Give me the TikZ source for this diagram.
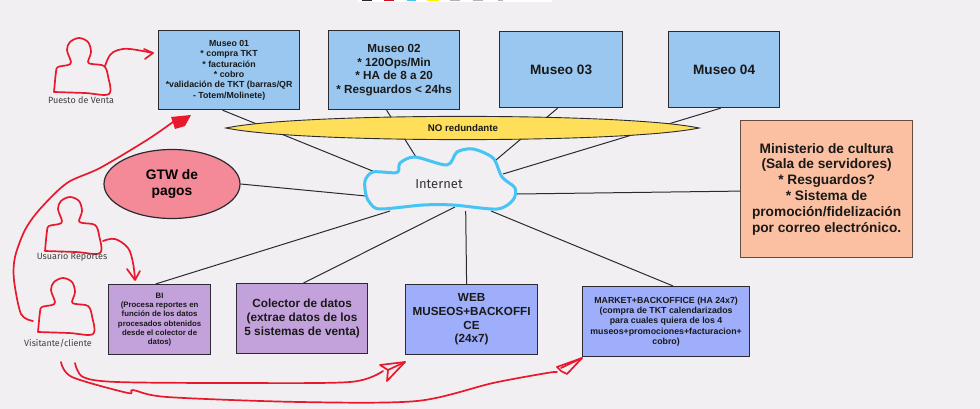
\documentclass[tikz,border=0pt]{standalone}
\usepackage{fontspec}
\setmainfont{Liberation Sans}
\newfontfamily\handfont{Fira Sans}
\usetikzlibrary{calc,shapes.geometric}
\definecolor{bgc}{HTML}{F1EFF1}
\definecolor{museo}{HTML}{99C7F0}
\definecolor{violeta}{HTML}{C3A2DC}
\definecolor{azul}{HTML}{9EAEFA}
\definecolor{salmon}{HTML}{FBBFA1}
\definecolor{rosa}{HTML}{F48A98}
\definecolor{amarillo}{HTML}{FFDE59}
\definecolor{rojo}{HTML}{E8192C}
\definecolor{nube}{HTML}{45C4F5}
\definecolor{linea}{HTML}{2A2A30}
\tikzset{
  x=1pt,y=-1pt,
  box/.style={draw=linea,line width=1.2pt,anchor=north west,inner sep=2pt,align=center,font=\bfseries,text=black!90},
  link/.style={draw=linea,line width=1pt},
  hand/.style={draw=rojo,line width=1.7pt,line cap=round,line join=round},
  handlabel/.style={font=\handfont\fontsize{9}{10}\selectfont,text=black!75,inner sep=0pt},
}
\newcommand{\personshape}[2]{%
  \draw[hand,shift={(#1,#2)}] plot[smooth,tension=0.55] coordinates {(54,92) (56,72) (58,67) (68,65) (71,62) (67,50) (70,42) (79,38) (88,42) (91,52) (88,62) (92,64) (104,66) (108,76) (109,94) (85,93) (54,92)};}
\begin{document}
\begin{tikzpicture}
\useasboundingbox (0,0) rectangle (980,409);
\fill[bgc] (0,0) rectangle (980,409);
% top strip
\fill[white] (358,0) rectangle (552,2);
\fill[black!85] (362,0) rectangle (372,1.5);
\fill[rojo!85!black] (384,0) rectangle (394,1.5);
\fill[nube] (407,0) rectangle (416,1.5);
\fill[yellow] (427,0) rectangle (439,1.5);
\fill[black!30] (450,0) rectangle (460,1.5);
\fill[black!30] (473,0) rectangle (483,1.5);
\fill[black!30] (498,0) rectangle (503,1.5);
% cloud ports
\coordinate (pm1) at (375,172);
\coordinate (pm2) at (416,157);
\coordinate (pm3) at (496,160);
\coordinate (pm4) at (503,174);
\coordinate (pmin) at (517,194);
\coordinate (pgtw) at (366,196);
\coordinate (pbi) at (390,211);
\coordinate (pcol) at (455,207);
\coordinate (pweb) at (465.7,211);
\coordinate (pmkt) at (491,211);
% boxes
\node[box,fill=museo,minimum width=141pt,minimum height=79pt,font=\bfseries\fontsize{8.8}{10.4}\selectfont] (m1) at (158,30) {Museo 01\\* compra TKT\\* facturación\\* cobro\\*validación de TKT (barras/QR\\- Totem/Molinete)};
\node[box,fill=museo,minimum width=131pt,minimum height=79pt,font=\bfseries\fontsize{11.7}{13.6}\selectfont] (m2) at (328,30) {Museo 02\\* 120Ops/Min\\* HA de 8 a 20\\* Resguardos < 24hs};
\node[box,fill=museo,minimum width=123pt,minimum height=76pt,font=\bfseries\fontsize{13.6}{15}\selectfont] (m3) at (499,31) {Museo 03};
\node[box,fill=museo,minimum width=111pt,minimum height=76pt,font=\bfseries\fontsize{13.6}{15}\selectfont] (m4) at (668,31) {Museo 04};
\node[box,draw=black!60!salmon,fill=salmon,minimum width=172pt,minimum height=137pt,font=\bfseries\fontsize{13.7}{15.8}\selectfont] (min) at (740,120) {Ministerio de cultura\\(Sala de servidores)\\* Resguardos?\\* Sistema de\\promoción/fidelización\\por correo electrónico.};
\node[box,fill=violeta,minimum width=102pt,minimum height=70pt,font=\bfseries\fontsize{7.8}{9.3}\selectfont] (bi) at (108,284) {BI\\(Procesa reportes en\\función de los datos\\procesados obtenidos\\desde el colector de\\datos)};
\node[box,fill=violeta,minimum width=131pt,minimum height=70pt,font=\bfseries\fontsize{11.8}{13.7}\selectfont] (col) at (236,283) {Colector de datos\\(extrae datos de los\\5 sistemas de venta)};
\node[box,fill=azul,minimum width=132pt,minimum height=70pt,font=\bfseries\fontsize{11.7}{13.7}\selectfont] (web) at (405,284) {WEB\\MUSEOS+BACKOFFI\\CE\\(24x7)};
\node[box,fill=azul,minimum width=167pt,minimum height=70pt,font=\bfseries\fontsize{8.8}{10.4}\selectfont] (mkt) at (582,286) {MARKET+BACKOFFICE (HA 24x7)\\(compra de TKT calendarizados\\para cuales quiera de los 4\\museos+promociones+facturacion+\\cobro)};
\node[draw=linea,line width=1.2pt,fill=rosa,inner sep=0pt,shape=ellipse,minimum width=136pt,minimum height=69pt,align=center,font=\bfseries\fontsize{13.8}{16}\selectfont] (gtw) at (172,184) {GTW de\\pagos};
% links
\draw[link] ([xshift=-6.5pt]m1.south) -- (pm1);
\draw[link] ([xshift=-7.5pt]m2.south) -- (pm2);
\draw[link] ([xshift=-3.5pt]m3.south) -- (pm3);
\draw[link] ([xshift=-3.5pt]m4.south) -- (pm4);
\draw[link] ([yshift=-2pt]min.west) -- (pmin);
\draw[link] (gtw.east) -- (pgtw);
\draw[link] ([xshift=-4pt]bi.north) -- (pbi);
\draw[link] ([xshift=1.5pt]col.north) -- (pcol);
\draw[link] ([xshift=-5pt]web.north) -- (pweb);
\draw[link] ([xshift=7pt]mkt.north) -- (pmkt);
% no redundante lens
\draw[draw=linea,line width=0.9pt,fill=amarillo] (226,128) .. controls (300,112.5) and (625,112.5) .. (699,128) .. controls (625,143.5) and (300,143.5) .. (226,128) -- cycle;
\node[font=\bfseries\fontsize{9.7}{11}\selectfont,text=black!90,inner sep=0pt] (nr) at (463,128) {NO redundante};
% cloud
\draw[draw=nube,line width=3pt,fill=bgc,line join=round] plot[smooth cycle,tension=0.5] coordinates {(366,195) (365,181) (373,172) (397,172.5) (400,163) (415,157) (447,165) (457,152) (473,149) (493,158) (502,177) (515,188) (513,200) (497,209) (453,205) (423,205) (380,209) (370,203)};
\node[font=\handfont\fontsize{13}{14}\selectfont,text=black!80,inner sep=0pt] (inet) at (439,184) {Internet};
% persons
\personshape{0}{0}
\personshape{-9}{159}
\personshape{-16}{240}
\node[handlabel] (l1) at (81,100) {Puesto de Venta};
\node[handlabel] (l2) at (72,257) {Usuario Reportes};
\node[handlabel] (l3) at (58,343) {Visitante/cliente};
% red hand-drawn arrows
\coordinate (a1) at (105,66);
\draw[hand] plot[smooth,tension=0.6] coordinates {(a1) (110,55) (118,50) (130,49) (153,53)};
\draw[hand] (144,49) -- (153,53) -- (145,59);
\coordinate (a2) at (103,241);
\draw[hand] plot[smooth,tension=0.6] coordinates {(a2) (115,239) (128,248) (133,263) (135,279)};
\draw[hand] (127,269) -- (135,280) -- (140,271);
\coordinate (a3) at (33,321);
\draw[hand] plot[smooth,tension=0.5] coordinates {(a3) (21,314) (14,280) (15,257) (25,230) (40,209) (67,183) (100,168) (147,140) (173,122)};
\fill[rojo] (171,117) -- (191,115) -- (185,126) -- (175,129) -- cycle;
\coordinate (a4) at (75,363);
\draw[hand] plot[smooth,tension=0.5] coordinates {(a4) (83,377) (117,382) (233,383) (350,382) (383,371)};
\draw[hand] (405,362) -- (380,365) -- (388,370) -- (387,381) -- cycle;
\draw[hand] (388,370) -- (405,362);
\coordinate (a5) at (61,362);
\draw[hand] plot[smooth,tension=0.5] coordinates {(a5) (72,377) (128,393) (133,390) (167,397) (300,402) (417,401) (493,383) (547,373) (557,372)};
\draw[hand] (582,358) -- (557,367) -- (561,371) -- (567,374) -- cycle;
\draw[hand] (561,368) -- (582,358);
\end{tikzpicture}
\end{document}
